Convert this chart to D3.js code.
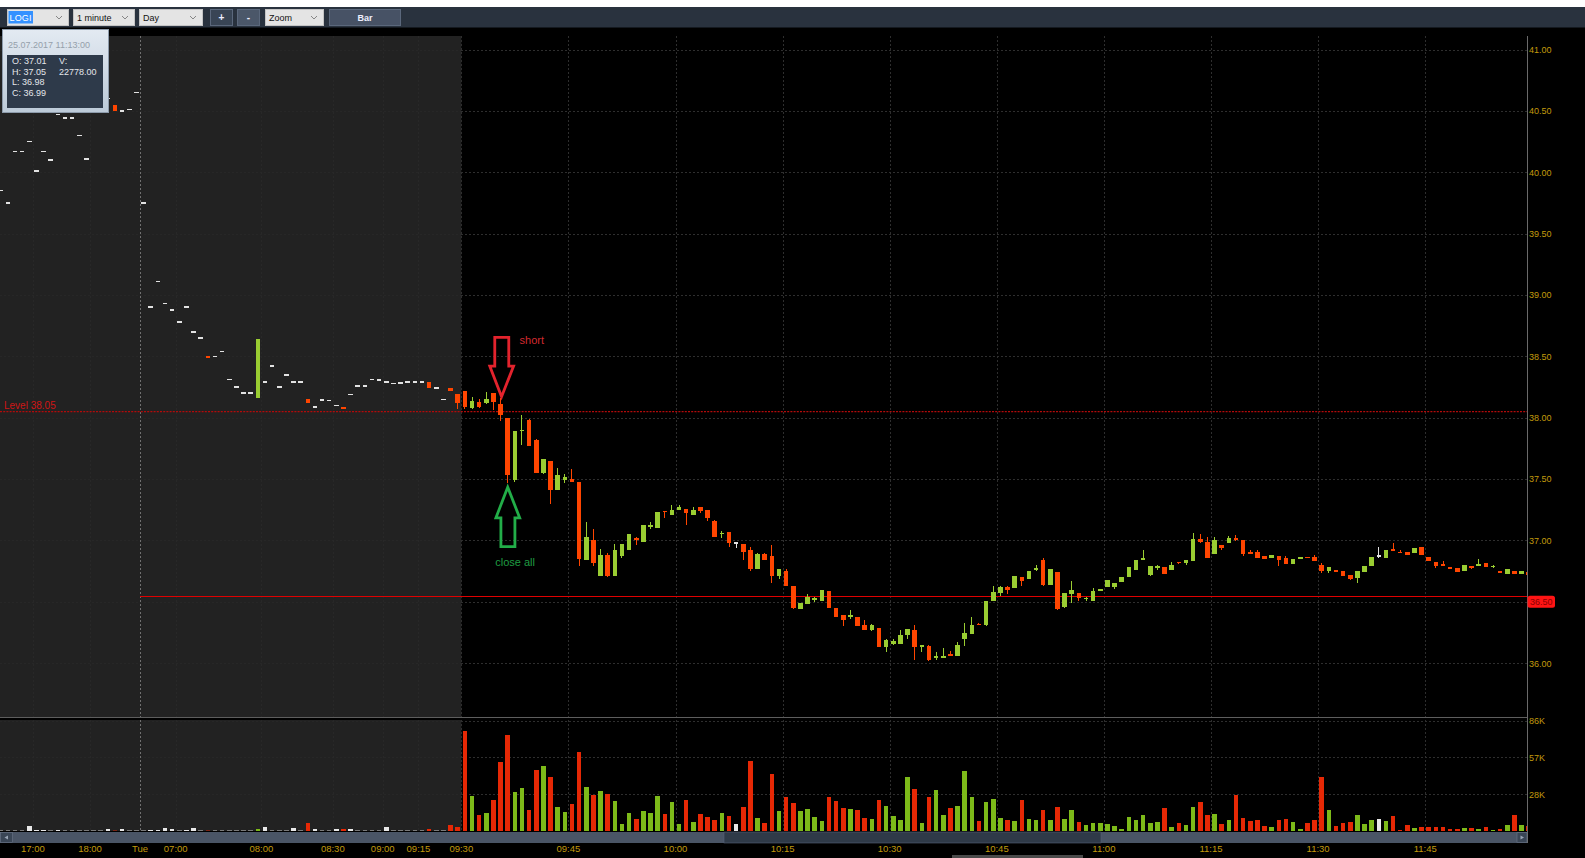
<!DOCTYPE html>
<html>
<head>
<meta charset="utf-8">
<script src="https://cdnjs.cloudflare.com/ajax/libs/d3/7.8.5/d3.min.js"></script>
<style>
  html, body { margin: 0; padding: 0; background: #000; overflow: hidden; }
  svg { display: block; font-family: "Liberation Sans", Arial, sans-serif; }
</style>
</head>
<body>
<div id="chart"></div>
<script>
// LOGI, 1 minute bars, 24.07 17:00 -> 25.07 11:59
// first 65 bars = extended hours (grey area), then the regular session from 09:30

const PRE_COUNT = 65;

const open = [
  // extended hours
  39.85, 39.75, 40.17, 40.17, 40.25, 40.01, 40.17, 40.10, 40.47, 40.44,
  40.44, 40.30, 40.11, 40.62, 40.62, 40.60, 40.55, 40.50, 40.51, 40.65,
  39.75, 38.90, 39.11, 38.93, 38.88, 38.78, 38.90, 38.70, 38.65, 38.50,
  38.50, 38.54, 38.31, 38.25, 38.20, 38.20, 38.16, 38.29, 38.42, 38.25,
  38.35, 38.29, 38.29, 38.15, 38.085, 38.145, 38.14, 38.10, 38.09, 38.19,
  38.26, 38.26, 38.31, 38.305, 38.29, 38.28, 38.285, 38.29, 38.29, 38.29,
  38.29, 38.24, 38.15, 38.245, 38.19,
  // 09:30 ->
  38.22, 38.08, 38.13, 38.12, 38.20, 38.11, 38.00, 37.49, 37.89, 37.98,
  37.82, 37.55, 37.65, 37.41, 37.49, 37.50, 37.48, 36.84, 37.00, 36.71,
  36.88, 36.71, 36.87, 36.92, 37.02, 36.99, 37.11, 37.10, 37.24, 37.21,
  37.25, 37.26, 37.21, 37.27, 37.25, 37.16, 37.055, 37.07, 36.98, 36.97,
  36.92, 36.77, 36.89, 36.87, 36.71, 36.75, 36.63, 36.44, 36.48, 36.52,
  36.51, 36.59, 36.45, 36.39, 36.38, 36.38, 36.31, 36.27, 36.29, 36.13,
  36.16, 36.16, 36.23, 36.27, 36.13, 36.14, 36.05, 36.05, 36.07, 36.06,
  36.20, 36.24, 36.32, 36.31, 36.51, 36.57, 36.62, 36.61, 36.70, 36.69,
  36.765, 36.84, 36.64, 36.74, 36.46, 36.56, 36.57, 36.525, 36.51, 36.59,
  36.62, 36.62, 36.665, 36.70, 36.76, 36.84, 36.72, 36.78, 36.78, 36.76,
  36.825, 36.815, 36.83, 37.01, 36.99, 36.89, 36.965, 36.98, 37.02, 37.005,
  36.90, 36.905, 36.875, 36.855, 36.87, 36.855, 36.81, 36.855, 36.865, 36.865,
  36.80, 36.75, 36.755, 36.75, 36.715, 36.695, 36.745, 36.79, 36.875, 36.855,
  36.925, 36.91, 36.905, 36.90, 36.945, 36.865, 36.825, 36.805, 36.785, 36.775,
  36.755, 36.795, 36.80, 36.82, 36.785, 36.75, 36.725, 36.75, 36.725, 36.745
];

const high = [
  39.85, 39.75, 40.17, 40.17, 40.25, 40.01, 40.17, 40.10, 40.47, 40.44,
  40.44, 40.30, 40.11, 40.62, 40.62, 40.60, 40.55, 40.50, 40.51, 40.65,
  39.75, 38.90, 39.11, 38.93, 38.88, 38.78, 38.90, 38.70, 38.65, 38.50,
  38.50, 38.54, 38.31, 38.25, 38.20, 38.20, 38.64, 38.29, 38.42, 38.25,
  38.35, 38.29, 38.29, 38.15, 38.085, 38.145, 38.14, 38.10, 38.09, 38.19,
  38.26, 38.26, 38.31, 38.305, 38.29, 38.28, 38.285, 38.29, 38.29, 38.29,
  38.29, 38.24, 38.15, 38.245, 38.19,
  38.22, 38.17, 38.15, 38.21, 38.20, 38.16, 38.00, 37.89, 38.02, 37.99,
  37.83, 37.66, 37.65, 37.59, 37.54, 37.58, 37.48, 37.15, 37.09, 36.93,
  36.90, 36.97, 36.97, 37.05, 37.03, 37.13, 37.15, 37.23, 37.24, 37.29,
  37.29, 37.26, 37.27, 37.27, 37.25, 37.17, 37.08, 37.07, 36.98, 36.97,
  36.95, 36.90, 36.90, 36.96, 36.77, 36.77, 36.63, 36.49, 36.56, 36.54,
  36.60, 36.59, 36.45, 36.39, 36.43, 36.38, 36.35, 36.32, 36.29, 36.20,
  36.20, 36.27, 36.28, 36.31, 36.15, 36.15, 36.09, 36.12, 36.10, 36.17,
  36.33, 36.38, 36.33, 36.51, 36.63, 36.63, 36.63, 36.71, 36.70, 36.75,
  36.80, 36.86, 36.77, 36.74, 36.57, 36.67, 36.57, 36.54, 36.61, 36.60,
  36.68, 36.655, 36.705, 36.78, 36.84, 36.925, 36.79, 36.80, 36.78, 36.825,
  36.825, 36.84, 37.06, 37.05, 37.03, 37.03, 36.965, 37.04, 37.045, 37.005,
  36.925, 36.925, 36.875, 36.88, 36.87, 36.875, 36.845, 36.86, 36.865, 36.885,
  36.815, 36.785, 36.76, 36.75, 36.715, 36.75, 36.795, 36.865, 36.945, 36.92,
  36.98, 36.92, 36.905, 36.94, 36.945, 36.865, 36.825, 36.83, 36.785, 36.775,
  36.80, 36.795, 36.845, 36.82, 36.80, 36.75, 36.765, 36.75, 36.755, 36.745
];

const low = [
  39.85, 39.75, 40.17, 40.17, 40.25, 40.01, 40.17, 40.10, 40.47, 40.44,
  40.44, 40.30, 40.11, 40.62, 40.62, 40.60, 40.50, 40.50, 40.51, 40.65,
  39.75, 38.90, 39.11, 38.93, 38.88, 38.78, 38.90, 38.70, 38.65, 38.49,
  38.50, 38.54, 38.31, 38.25, 38.20, 38.20, 38.16, 38.29, 38.42, 38.25,
  38.35, 38.29, 38.29, 38.12, 38.085, 38.145, 38.14, 38.10, 38.07, 38.19,
  38.26, 38.26, 38.31, 38.305, 38.29, 38.28, 38.285, 38.29, 38.29, 38.29,
  38.24, 38.24, 38.15, 38.215, 38.07,
  38.07, 38.07, 38.08, 38.11, 38.06, 37.97, 37.47, 37.48, 37.78, 37.77,
  37.55, 37.54, 37.30, 37.41, 37.47, 37.48, 36.79, 36.84, 36.79, 36.71,
  36.70, 36.71, 36.86, 36.92, 36.96, 36.99, 37.09, 37.10, 37.18, 37.21,
  37.25, 37.13, 37.21, 37.22, 37.16, 37.03, 37.02, 36.95, 36.94, 36.84,
  36.75, 36.77, 36.84, 36.65, 36.69, 36.63, 36.44, 36.44, 36.48, 36.50,
  36.51, 36.45, 36.38, 36.30, 36.36, 36.30, 36.27, 36.26, 36.13, 36.09,
  36.15, 36.16, 36.20, 36.03, 36.09, 36.02, 36.03, 36.04, 36.065, 36.06,
  36.14, 36.24, 36.31, 36.30, 36.51, 36.55, 36.56, 36.61, 36.63, 36.69,
  36.75, 36.63, 36.64, 36.43, 36.45, 36.49, 36.51, 36.51, 36.51, 36.59,
  36.62, 36.605, 36.665, 36.70, 36.76, 36.84, 36.71, 36.76, 36.73, 36.76,
  36.81, 36.80, 36.83, 36.98, 36.86, 36.89, 36.92, 36.98, 36.995, 36.87,
  36.895, 36.855, 36.85, 36.855, 36.79, 36.81, 36.81, 36.845, 36.855, 36.83,
  36.735, 36.735, 36.745, 36.71, 36.68, 36.65, 36.745, 36.79, 36.86, 36.855,
  36.92, 36.895, 36.88, 36.90, 36.88, 36.835, 36.775, 36.80, 36.765, 36.74,
  36.755, 36.77, 36.795, 36.78, 36.775, 36.735, 36.725, 36.73, 36.725, 36.72
];

const close = [
  39.85, 39.75, 40.17, 40.17, 40.25, 40.01, 40.17, 40.10, 40.47, 40.44,
  40.44, 40.30, 40.11, 40.62, 40.62, 40.60, 40.50, 40.50, 40.51, 40.65,
  39.75, 38.90, 39.11, 38.93, 38.88, 38.78, 38.90, 38.70, 38.65, 38.49,
  38.50, 38.54, 38.31, 38.25, 38.20, 38.20, 38.64, 38.29, 38.42, 38.25,
  38.35, 38.29, 38.29, 38.12, 38.085, 38.145, 38.14, 38.10, 38.07, 38.19,
  38.26, 38.26, 38.31, 38.305, 38.29, 38.28, 38.285, 38.29, 38.29, 38.29,
  38.24, 38.24, 38.15, 38.215, 38.12,
  38.09, 38.14, 38.09, 38.15, 38.13, 38.02, 37.53, 37.89, 37.90, 37.77,
  37.55, 37.66, 37.41, 37.53, 37.52, 37.48, 36.85, 37.03, 36.82, 36.88,
  36.71, 36.92, 36.97, 37.05, 37.00, 37.13, 37.13, 37.23, 37.23, 37.25,
  37.27, 37.22, 37.25, 37.24, 37.18, 37.03, 37.06, 36.98, 36.98, 36.91,
  36.77, 36.89, 36.84, 36.71, 36.77, 36.63, 36.45, 36.49, 36.54, 36.525,
  36.60, 36.45, 36.38, 36.35, 36.385, 36.30, 36.27, 36.31, 36.13, 36.19,
  36.18, 36.23, 36.28, 36.13, 36.15, 36.03, 36.055, 36.055, 36.065, 36.15,
  36.25, 36.31, 36.31, 36.51, 36.58, 36.62, 36.60, 36.71, 36.67, 36.75,
  36.77, 36.64, 36.77, 36.44, 36.57, 36.60, 36.53, 36.53, 36.59, 36.60,
  36.675, 36.655, 36.705, 36.78, 36.84, 36.86, 36.79, 36.785, 36.73, 36.80,
  36.815, 36.84, 37.01, 36.99, 36.86, 37.005, 36.935, 37.02, 37.00, 36.89,
  36.895, 36.855, 36.85, 36.88, 36.84, 36.81, 36.845, 36.858, 36.857, 36.83,
  36.755, 36.785, 36.748, 36.71, 36.69, 36.75, 36.795, 36.865, 36.875, 36.92,
  36.92, 36.895, 36.88, 36.94, 36.88, 36.835, 36.79, 36.80, 36.765, 36.745,
  36.80, 36.775, 36.805, 36.78, 36.79, 36.735, 36.765, 36.73, 36.755, 36.72
];

const volume = [
  600, 600, 600, 600, 3600, 1000, 1000, 600, 1000, 600,
  600, 600, 600, 600, 600, 1600, 800, 1300, 600, 600,
  600, 1000, 1000, 2300, 1300, 600, 1000, 2300, 600, 800,
  600, 600, 600, 600, 600, 600, 1600, 3100, 600, 600,
  600, 2300, 600, 6200, 1800, 600, 600, 1800, 1600, 1800,
  600, 600, 600, 600, 3100, 600, 600, 600, 600, 600,
  1600, 600, 600, 4400, 3100,
  77900, 27500, 12200, 14000, 24200, 54000, 74800, 30100, 33500, 16600,
  47500, 50700, 42300, 18700, 14800, 21300, 61600, 34300, 28300, 30900,
  28800, 23100, 5700, 14000, 9400, 15300, 14000, 27500, 13200, 22300,
  5500, 24200, 6800, 13200, 10700, 8600, 14000, 11400, 5500, 18700,
  54600, 9900, 6200, 44200, 15300, 26800, 21800, 15300, 17100, 10900,
  7500, 26500, 23100, 17900, 17100, 16100, 10100, 9400, 23900, 19500,
  11400, 8300, 42100, 32700, 6200, 26500, 31700, 12200, 17900, 19500,
  46500, 26500, 7500, 22300, 24900, 10100, 8300, 7500, 23900, 9400,
  8300, 16600, 8300, 18700, 9400, 16600, 7000, 4900, 6200, 6200,
  5500, 3600, 1300, 10900, 8300, 12200, 6200, 7000, 17900, 3100,
  6200, 4400, 18700, 22778, 12700, 13200, 5500, 8800, 28100, 10100,
  7500, 8800, 3600, 3100, 8800, 9400, 7000, 1600, 6200, 8800,
  42300, 16600, 3600, 6200, 6800, 12200, 5500, 8300, 9400, 7500,
  11400, 1000, 4400, 2300, 3100, 3100, 3100, 3100, 1600, 1600,
  2300, 2300, 1600, 3100, 1000, 1600, 4900, 12200, 4400, 3600
];

// time axis: bar index where each label sits
const tickBars = [5, 13, 20, 25, 37, 47, 54, 59, 65, 80, 95, 110, 125, 140, 155, 170, 185, 200];
const tickLabels = ["17:00", "18:00", "Tue", "07:00", "08:00", "08:30", "09:00", "09:15", "09:30",
  "09:45", "10:00", "10:15", "10:30", "10:45", "11:00", "11:15", "11:30", "11:45"];
const DAY_BREAK = 20; // "Tue"

const priceTicks = [36, 36.5, 37, 37.5, 38, 38.5, 39, 39.5, 40, 40.5, 41];
const VOL_MAX = 86000;
const volTicks = [VOL_MAX / 3, VOL_MAX * 2 / 3, VOL_MAX];

const LEVEL = 38.05;       // dotted level
const SUPPORT = 36.55;     // solid red line
const SUPPORT_TAG = "36.50";

// annotations (bar index / price of arrow tips)
const SHORT_BAR = PRE_COUNT + 5, SHORT_PRICE = 38.171;
const CLOSE_BAR = PRE_COUNT + 6, CLOSE_PRICE = 37.434;

// hover box values
const hover = { time: "25.07.2017 11:13:00", o: "37.01", h: "37.05", l: "36.98", c: "36.99", v: "22778.00" };

// ---------------------------------------------------------------
const W = 1585, H = 858;
const PLOT_R = 1527;
const PRICE_TOP = 36, PRICE_BOT = 717;
const VOL_TOP = 720, VOL_BOT = 831;
const STEP = 7.14;
const N = open.length;
const X0 = 461.3 - PRE_COUNT * STEP;

const UP = "#9acd32", DOWN = "#ff4500", FLAT = "#e2e2e2";
const VUP = "#7dba19", VDOWN = "#e62805", VFLAT = "#e8e8e8";
const GOLD = "#c29a0c";
const GRID = "#2e2e2e";

const xScale = d3.scaleBand()
  .domain(d3.range(N))
  .range([X0, X0 + N * STEP])
  .paddingInner(0.36)
  .paddingOuter(0.18);
const bw = xScale.bandwidth();
const xc = i => xScale(i) + bw / 2;
const slot = i => xScale(i) - 0.18 * STEP;

const yScale = d3.scaleLinear().domain([36, 41]).range([663.2, 49.5]);
const vScale = d3.scaleLinear().domain([0, VOL_MAX]).range([VOL_BOT, 720.7]);

function dir(i) {
  return close[i] > open[i] ? 1 : close[i] < open[i] ? -1 : 0;
}

const svg = d3.select("#chart").append("svg").attr("width", W).attr("height", H);

const defs = svg.append("defs");
defs.append("clipPath").attr("id", "clipPrice")
  .append("rect").attr("x", 0).attr("y", PRICE_TOP).attr("width", PLOT_R).attr("height", PRICE_BOT - PRICE_TOP);
defs.append("clipPath").attr("id", "clipVol")
  .append("rect").attr("x", 0).attr("y", VOL_TOP).attr("width", PLOT_R).attr("height", VOL_BOT - VOL_TOP);
const grad = defs.append("linearGradient").attr("id", "tipGrad").attr("x1", 0).attr("y1", 0).attr("x2", 0).attr("y2", 1);
grad.append("stop").attr("offset", 0).attr("stop-color", "#e3eaf2");
grad.append("stop").attr("offset", 1).attr("stop-color", "#bccad8");

// background
svg.append("rect").attr("width", W).attr("height", H).attr("fill", "#000");
svg.append("rect").attr("width", W).attr("height", 7).attr("fill", "#fff");

// extended hours shading
const preEnd = slot(PRE_COUNT);
svg.append("rect").attr("x", 0).attr("y", PRICE_TOP).attr("width", preEnd).attr("height", PRICE_BOT - PRICE_TOP).attr("fill", "#222");
svg.append("rect").attr("x", 0).attr("y", VOL_TOP).attr("width", preEnd).attr("height", VOL_BOT - VOL_TOP).attr("fill", "#222");

// grid (only visible on the black session area, barely on the grey one)
const grid = svg.append("g").attr("fill", "none").attr("shape-rendering", "crispEdges");
const hLines = priceTicks.map(yScale).concat(volTicks.map(vScale));
grid.selectAll(".hg").data(hLines).join("line")
  .attr("x1", preEnd).attr("x2", PLOT_R)
  .attr("y1", d => Math.round(d) + 0.5).attr("y2", d => Math.round(d) + 0.5)
  .attr("stroke", GRID).attr("stroke-dasharray", "2,2");
grid.selectAll(".hgp").data(hLines).join("line")
  .attr("x1", 0).attr("x2", preEnd)
  .attr("y1", d => Math.round(d) + 0.5).attr("y2", d => Math.round(d) + 0.5)
  .attr("stroke", "#272727").attr("stroke-dasharray", "2,2");
[[PRICE_TOP, PRICE_BOT], [VOL_TOP, VOL_BOT]].forEach(([a, b]) => {
  grid.selectAll(null).data(tickBars.filter(t => t !== DAY_BREAK)).join("line")
    .attr("x1", d => Math.round(slot(d)) + 0.5).attr("x2", d => Math.round(slot(d)) + 0.5)
    .attr("y1", a).attr("y2", b)
    .attr("stroke", d => d < PRE_COUNT ? "#282828" : GRID)
    .attr("stroke-dasharray", "2,2");
  grid.append("line")
    .attr("x1", Math.round(slot(DAY_BREAK)) + 0.5).attr("x2", Math.round(slot(DAY_BREAK)) + 0.5)
    .attr("y1", a).attr("y2", b)
    .attr("stroke", "#707070").attr("stroke-dasharray", "2,2");
});

// level lines
svg.append("line")
  .attr("x1", 0).attr("x2", PLOT_R)
  .attr("y1", yScale(LEVEL)).attr("y2", yScale(LEVEL))
  .attr("stroke", "#b30a0a").attr("stroke-width", 1.3).attr("stroke-dasharray", "2,1.2");
svg.append("text")
  .attr("x", 4).attr("y", yScale(LEVEL) - 2.5)
  .attr("font-size", 10).attr("fill", "#d01515")
  .text("Level " + LEVEL.toFixed(2));
svg.append("line")
  .attr("x1", slot(DAY_BREAK)).attr("x2", PLOT_R)
  .attr("y1", Math.round(yScale(SUPPORT)) + 0.5).attr("y2", Math.round(yScale(SUPPORT)) + 0.5)
  .attr("stroke", "#e00000");

// candles
const bars = d3.range(N).filter(i => open[i] != null);
const candles = svg.append("g").attr("clip-path", "url(#clipPrice)").attr("shape-rendering", "crispEdges");
const col = i => dir(i) > 0 ? UP : dir(i) < 0 ? DOWN : FLAT;
candles.selectAll(".wick").data(bars.filter(i => high[i] > low[i])).join("line")
  .attr("x1", xc).attr("x2", xc)
  .attr("y1", i => yScale(high[i])).attr("y2", i => yScale(low[i]))
  .attr("stroke", col);
candles.selectAll(".body").data(bars).join("rect")
  .attr("x", i => xScale(i))
  .attr("width", bw)
  .attr("y", i => {
    const t = yScale(Math.max(open[i], close[i])), b = yScale(Math.min(open[i], close[i]));
    return b - t < 1.6 ? (t + b) / 2 - 0.8 : t;
  })
  .attr("height", i => Math.max(1.6, Math.abs(yScale(open[i]) - yScale(close[i]))))
  .attr("fill", col);

// volume
const vols = svg.append("g").attr("clip-path", "url(#clipVol)").attr("shape-rendering", "crispEdges");
vols.selectAll("rect").data(bars).join("rect")
  .attr("x", i => xScale(i))
  .attr("width", bw)
  .attr("y", i => Math.min(vScale(volume[i]), VOL_BOT - 1))
  .attr("height", i => Math.max(1, VOL_BOT - vScale(volume[i])))
  .attr("fill", i => dir(i) > 0 ? VUP : dir(i) < 0 ? VDOWN : VFLAT)
  .attr("opacity", i => volume[i] < 1000 ? 0.45 : 1);

// panel separator + axis line
svg.append("line").attr("x1", 0).attr("x2", PLOT_R).attr("y1", PRICE_BOT + 0.5).attr("y2", PRICE_BOT + 0.5).attr("stroke", "#5e5e5e");
svg.append("line").attr("x1", PLOT_R + 0.5).attr("x2", PLOT_R + 0.5).attr("y1", PRICE_TOP).attr("y2", 843).attr("stroke", "#6a6a6a");

// price axis
const yAxis = d3.axisRight(yScale).tickValues(priceTicks).tickFormat(d3.format(".2f")).tickSize(0).tickPadding(2);
const gy = svg.append("g").attr("transform", `translate(${PLOT_R},0)`).call(yAxis);
gy.select(".domain").remove();
gy.selectAll("text").attr("fill", GOLD).attr("font-size", 9).attr("font-family", "Liberation Sans, Arial, sans-serif");

// support tag on axis
const tagY = yScale(36.5);
svg.append("rect").attr("x", PLOT_R + 0.5).attr("y", tagY - 6).attr("width", 27.5).attr("height", 12).attr("rx", 2.5).attr("fill", "#ff1414");
svg.append("text").attr("x", PLOT_R + 3).attr("y", tagY + 3.2).attr("font-size", 9).attr("fill", "#8a0000").text(SUPPORT_TAG);

// volume axis
const vAxis = d3.axisRight(vScale).tickValues(volTicks).tickFormat(d => Math.floor(d / 1000) + "K").tickSize(0).tickPadding(2);
const gv = svg.append("g").attr("transform", `translate(${PLOT_R},0)`).call(vAxis);
gv.select(".domain").remove();
gv.selectAll("text").attr("fill", GOLD).attr("font-size", 9).attr("font-family", "Liberation Sans, Arial, sans-serif");

// scrollbar
svg.append("rect").attr("x", 0).attr("y", 832).attr("width", PLOT_R).attr("height", 11).attr("fill", "#4a5566");
svg.append("rect").attr("x", 724).attr("y", 832).attr("width", 377).attr("height", 11).attr("fill", "#2f3a48").attr("stroke", "#56627a").attr("stroke-width", 0.6);
svg.append("rect").attr("x", 0.5).attr("y", 832.5).attr("width", 12).attr("height", 10).attr("fill", "#3a4656").attr("stroke", "#6b7789").attr("stroke-width", 0.6);
svg.append("path").attr("d", "M8,835.5 L4.5,837.5 L8,839.5 Z").attr("fill", "#9aa6b6");
svg.append("rect").attr("x", 1517).attr("y", 832.5).attr("width", 10).attr("height", 10).attr("fill", "#3a4656").attr("stroke", "#6b7789").attr("stroke-width", 0.6);
svg.append("path").attr("d", "M1520.5,835.5 L1524,837.5 L1520.5,839.5 Z").attr("fill", "#9aa6b6");
svg.append("rect").attr("x", 952).attr("y", 855).attr("width", 131).attr("height", 3).attr("fill", "#4a4a4a");

// time axis
const xAxis = d3.axisBottom(xScale)
  .tickValues(tickBars)
  .tickFormat(d => tickLabels[tickBars.indexOf(d)])
  .tickSize(0).tickPadding(0);
const gx = svg.append("g").attr("transform", `translate(${-bw / 2 - 0.18 * STEP},843)`).call(xAxis);
gx.select(".domain").remove();
gx.selectAll("text").attr("fill", GOLD).attr("font-size", 9.5).attr("dy", "0.95em").attr("font-family", "Liberation Sans, Arial, sans-serif");

// arrows
function arrow(tx, ty, s, color) {
  // s = 1 pointing down (tip at bottom), -1 pointing up
  const pts = [[0, 0], [-11.8, -30.7], [-6.8, -30.7], [-6.8, -59.4], [7.2, -59.4], [7.2, -30.7], [12, -30.7]];
  svg.append("polygon")
    .attr("points", pts.map(p => [tx + p[0], ty + s * p[1]].join(",")).join(" "))
    .attr("fill", "none").attr("stroke", color).attr("stroke-width", 2.8).attr("stroke-linejoin", "miter");
}
const sx = xc(SHORT_BAR) + 1, sy = yScale(SHORT_PRICE);
arrow(sx, sy, 1, "#e3232d");
svg.append("text").attr("x", sx + 18).attr("y", sy - 53).attr("font-size", 11).attr("fill", "#d42a2f").text("short");
const cx = xc(CLOSE_BAR), cy = yScale(CLOSE_PRICE);
arrow(cx, cy, -1, "#22ad48");
svg.append("text").attr("x", cx - 12.5).attr("y", cy + 78.5).attr("font-size", 11).attr("fill", "#1f9c42").text("close all");

// toolbar
svg.append("rect").attr("x", 0).attr("y", 7).attr("width", W).attr("height", 20.5).attr("fill", "#29323e");
function combo(x, w, label) {
  svg.append("rect").attr("x", x + 0.5).attr("y", 9.5).attr("width", w).attr("height", 16).attr("fill", "#e4e4e4").attr("stroke", "#c4c4c4");
  if (label) svg.append("text").attr("x", x + 4).attr("y", 21).attr("font-size", 9).attr("fill", "#111").text(label);
  svg.append("path").attr("d", `M${x + w - 12},16 L${x + w - 9},19 L${x + w - 6},16`).attr("fill", "none").attr("stroke", "#7a7a7a").attr("stroke-width", 0.9);
}
combo(7, 61, null);
svg.append("rect").attr("x", 8.5).attr("y", 11).attr("width", 24.5).attr("height", 12.5).attr("fill", "#3391ff");
svg.append("text").attr("x", 9.5).attr("y", 21).attr("font-size", 9).attr("fill", "#fff").attr("textLength", 22).text("LOGI");
combo(73, 61, "1 minute");
combo(139, 63, "Day");
function button(x, w, label, fill, bold) {
  svg.append("rect").attr("x", x + 0.5).attr("y", 9.5).attr("width", w).attr("height", 16).attr("fill", fill).attr("stroke", "#5b687c");
  svg.append("text").attr("x", x + w / 2 + 0.5).attr("y", 21).attr("text-anchor", "middle")
    .attr("font-size", bold ? 9 : 10).attr("font-weight", "bold").attr("fill", "#eef").text(label);
}
button(210, 22, "+", "#394555");
button(237, 22, "-", "#4b5769");
combo(265, 58, "Zoom");
button(329, 71, "Bar", "#475265", true);

// hover box
const tip = svg.append("g");
tip.append("rect").attr("x", 2.5).attr("y", 29.5).attr("width", 106).attr("height", 83).attr("fill", "url(#tipGrad)").attr("stroke", "#8d9bab");
tip.append("text").attr("x", 8).attr("y", 48).attr("font-size", 9).attr("fill", "#95a0ab").text(hover.time);
tip.append("rect").attr("x", 7).attr("y", 55).attr("width", 96).attr("height", 53).attr("fill", "#2e3a4a");
const tipRows = [["O: " + hover.o, "V:"], ["H: " + hover.h, hover.v], ["L: " + hover.l, ""], ["C: " + hover.c, ""]];
tipRows.forEach((r, k) => {
  tip.append("text").attr("x", 12).attr("y", 64 + k * 10.6).attr("font-size", 9).attr("fill", "#e4e6ea").text(r[0]);
  if (r[1]) tip.append("text").attr("x", 59).attr("y", 64 + k * 10.6).attr("font-size", 9).attr("fill", "#e4e6ea").text(r[1]);
});
</script>
</body>
</html>
